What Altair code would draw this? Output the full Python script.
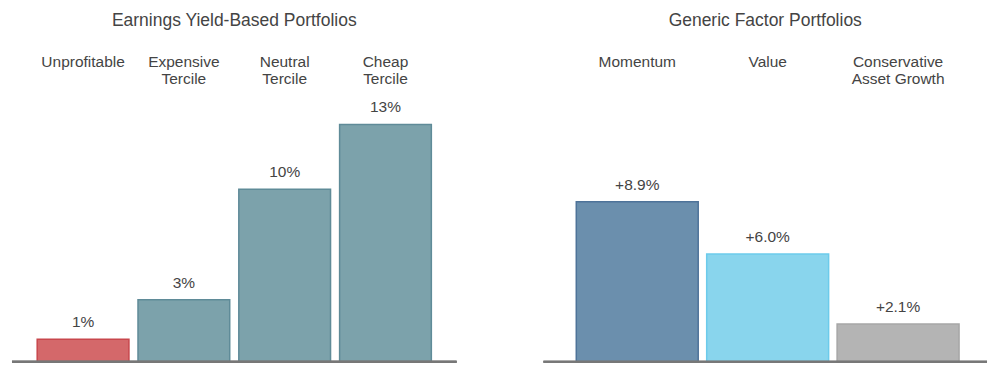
import altair as alt
import pandas as pd

# Left panel: Earnings yield-based portfolios
ey_categories = ["Unprofitable", "Expensive\nTercile", "Neutral\nTercile", "Cheap\nTercile"]
ey_values = [1.25, 3.45, 9.6, 13.2]
ey_labels = ["1%", "3%", "10%", "13%"]
ey_fill = ["#d4686a", "#7ca2ab", "#7ca2ab", "#7ca2ab"]
ey_stroke = ["#c8474c", "#5f8b98", "#5f8b98", "#5f8b98"]

# Right panel: generic factor portfolios
gf_categories = ["Momentum", "Value", "Conservative\nAsset Growth"]
gf_values = [8.9, 6.0, 2.1]
gf_labels = ["+8.9%", "+6.0%", "+2.1%"]
gf_fill = ["#6b8fad", "#89d5ed", "#b4b4b4"]
gf_stroke = ["#4e7399", "#6ccbeb", "#a6a6a6"]

FONT = "Liberation Sans"
TXT = "#444444"


def panel(cats, vals, labels, fills, strokes, title, width, pin, pout, align):
    df = pd.DataFrame({"cat": cats, "val": vals, "lab": labels,
                       "fillc": fills, "strokec": strokes})
    x = alt.X(
        "cat:N",
        sort=cats,
        scale=alt.Scale(paddingInner=pin, paddingOuter=pout, align=align),
        axis=alt.Axis(
            orient="top", title=None, ticks=False, tickSize=0, domain=False,
            labelAngle=0, labelFontSize=15.5, labelColor=TXT, labelFont=FONT,
            labelBaseline="top", labelPadding=38, labelLineHeight=17,
            labelLimit=300, labelExpr="split(datum.label, '\\n')",
        ),
    )
    y = alt.Y("val:Q", scale=alt.Scale(domain=[0, 15], nice=False), axis=None)
    bars = alt.Chart(df).mark_bar(strokeWidth=1.5).encode(
        x=x, y=y,
        fill=alt.Fill("fillc:N", scale=None),
        stroke=alt.Stroke("strokec:N", scale=None),
    )
    text = alt.Chart(df).mark_text(
        baseline="bottom", dy=-9, fontSize=15.5, color=TXT, font=FONT
    ).encode(x=alt.X("cat:N", sort=cats), y="val:Q", text="lab:N")
    base = alt.Chart(df).mark_rule(color="#777777", strokeWidth=2).encode(y=alt.datum(0))
    return alt.layer(bars, text, base).properties(
        width=width, height=270,
        title=alt.TitleParams(title, fontSize=17.5, color=TXT, font=FONT,
                              fontWeight="normal", offset=25),
    )


left = panel(ey_categories, ey_values, ey_labels, ey_fill, ey_stroke,
             "Earnings Yield-Based Portfolios", 445, 0.09, 0.25, 0.5)
right = panel(gf_categories, gf_values, gf_labels, gf_fill, gf_stroke,
              "Generic Factor Portfolios", 444, 0.065, 0.233, 0.54)

chart = alt.hconcat(left, right, spacing=85).properties(
    padding={"left": 3, "top": 3, "right": 4, "bottom": 4}
).configure(
    background="white",
    view=alt.ViewConfig(strokeWidth=0, stroke="transparent"),
)

chart.save("out.html", embed_options={"renderer": "svg", "actions": False})
